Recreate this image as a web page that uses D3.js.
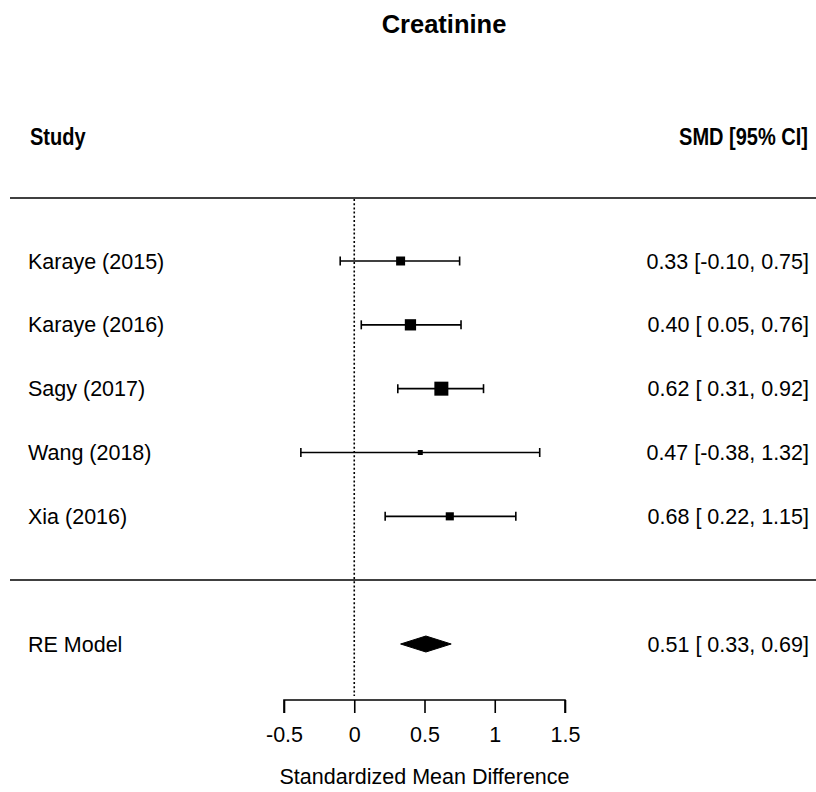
<!DOCTYPE html>
<html><head><meta charset="utf-8">
<script src="https://cdn.jsdelivr.net/npm/d3@7"></script>
<style>body{margin:0;background:#fff}svg{display:block}</style>
</head><body>
<script>
const title = "Creatinine";
const studies = ["Karaye (2015)", "Karaye (2016)", "Sagy (2017)", "Wang (2018)", "Xia (2016)"];
const est = [0.33, 0.40, 0.62, 0.47, 0.68];
const lower = [-0.10, 0.05, 0.31, -0.38, 0.22];
const upper = [0.75, 0.76, 0.92, 1.32, 1.15];
const weights = [18.3, 26.2, 35.6, 4.6, 15.3];
const labels = ["0.33 [-0.10, 0.75]", "0.40 [ 0.05, 0.76]", "0.62 [ 0.31, 0.92]", "0.47 [-0.38, 1.32]", "0.68 [ 0.22, 1.15]"];
const model = {name: "RE Model", est: 0.51, lower: 0.33, upper: 0.69, label: "0.51 [ 0.33, 0.69]"};
const xTicks = [-0.5, 0, 0.5, 1, 1.5];
const xTitle = "Standardized Mean Difference";

const W = 816, H = 792;
const svg = d3.select("body").append("svg").attr("width", W).attr("height", H);
const x = d3.scaleLinear().domain([-0.5, 1.5]).range([284, 565]);
// rows: 0..4 studies, 6 = model
const y = d3.scaleLinear().domain([0, 6]).range([261, 644]);
const size = d3.scaleLinear().domain([d3.min(weights), d3.max(weights)]).range([5, 14]);
const font = "Liberation Sans, Arial, sans-serif";
const fs = 21.5;
const sw = 1.6;

svg.append("text").attr("x", 444).attr("y", 33).attr("text-anchor", "middle")
  .attr("font-family", font).attr("font-weight", "bold").attr("font-size", 25.5).text(title);

svg.append("text").attr("transform", "translate(30,145) scale(0.87,1)").attr("font-family", font)
  .attr("font-weight", "bold").attr("font-size", 23).text("Study");
svg.append("text").attr("transform", "translate(808,145) scale(0.87,1)").attr("text-anchor", "end").attr("font-family", font)
  .attr("font-weight", "bold").attr("font-size", 23).text("SMD [95% CI]");

svg.append("line").attr("x1", 10).attr("x2", 816).attr("y1", 198).attr("y2", 198).attr("stroke", "#000").attr("stroke-width", 1.6);
svg.append("line").attr("x1", 10).attr("x2", 816).attr("y1", 580).attr("y2", 580).attr("stroke", "#000").attr("stroke-width", 1.6);

svg.append("line").attr("x1", x(0)).attr("x2", x(0)).attr("y1", 199).attr("y2", 696)
  .attr("stroke", "#000").attr("stroke-width", 1.6).attr("stroke-dasharray", "2,2.2");

const g = svg.append("g");
studies.forEach((s, i) => {
  const yy = y(i);
  g.append("text").attr("x", 28).attr("y", yy + 7.5).attr("font-family", font).attr("font-size", fs).text(s);
  g.append("text").attr("x", 809).attr("y", yy + 7.5).attr("text-anchor", "end").attr("font-family", font).attr("font-size", fs).text(labels[i]);
  g.append("line").attr("x1", x(lower[i])).attr("x2", x(upper[i])).attr("y1", yy).attr("y2", yy).attr("stroke", "#000").attr("stroke-width", sw);
  [lower[i], upper[i]].forEach(v => g.append("line").attr("x1", x(v)).attr("x2", x(v)).attr("y1", yy - 4.5).attr("y2", yy + 4.5).attr("stroke", "#000").attr("stroke-width", sw));
  const sz = size(weights[i]);
  g.append("rect").attr("x", x(est[i]) - sz / 2).attr("y", yy - sz / 2).attr("width", sz).attr("height", sz).attr("fill", "#000");
});

const ym = y(6);
svg.append("text").attr("x", 28).attr("y", ym + 7.5).attr("font-family", font).attr("font-size", fs).text(model.name);
svg.append("text").attr("x", 809).attr("y", ym + 7.5).attr("text-anchor", "end").attr("font-family", font).attr("font-size", fs).text(model.label);
svg.append("polygon").attr("points", [[x(model.lower), ym], [x(model.est), ym - 8], [x(model.upper), ym], [x(model.est), ym + 8]].map(p => p.join(",")).join(" "))
  .attr("fill", "#000").attr("stroke", "#000").attr("stroke-width", 1);

const axis = d3.axisBottom(x).tickValues(xTicks).tickSize(13).tickPadding(14).tickFormat(d => String(d));
const ax = svg.append("g").attr("transform", "translate(0,700)").call(axis);
ax.select(".domain").attr("stroke-width", sw).attr("d", `M${x(-0.5)},13V0H${x(1.5)}V13`);
ax.selectAll(".tick line").attr("stroke-width", sw);
ax.selectAll(".tick text").attr("font-family", font).attr("font-size", fs).attr("fill", "#000");

svg.append("text").attr("x", x(0.5)).attr("y", 784).attr("text-anchor", "middle").attr("font-family", font).attr("font-size", fs).text(xTitle);
</script>
</body></html>
